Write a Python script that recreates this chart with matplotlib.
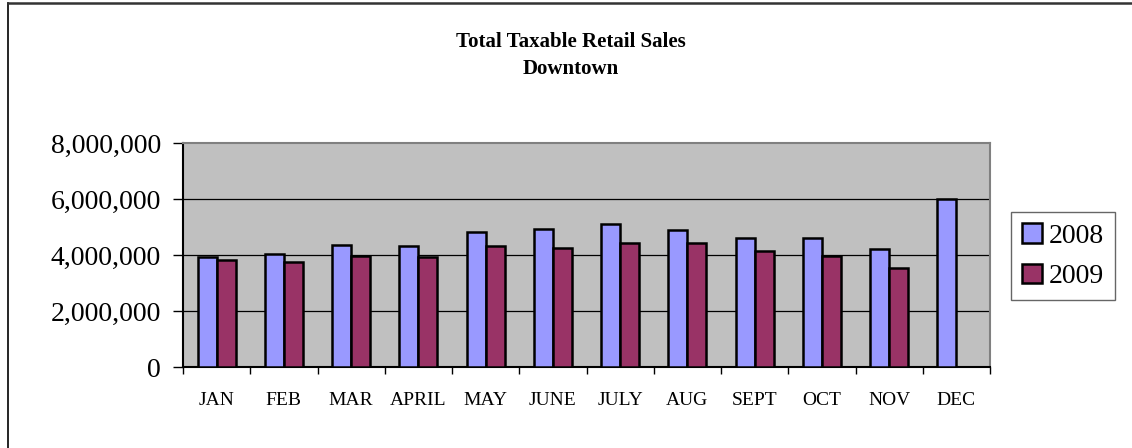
import matplotlib.pyplot as plt
import numpy as np
from matplotlib.lines import Line2D
from matplotlib.ticker import FuncFormatter, FixedLocator

months = ["JAN", "FEB", "MAR", "APRIL", "MAY", "JUNE", "JULY", "AUG",
          "SEPT", "OCT", "NOV", "DEC"]
sales_2008 = [3930000, 4050000, 4350000, 4330000, 4830000, 4930000,
              5110000, 4900000, 4590000, 4610000, 4210000, 6000000]
sales_2009 = [3810000, 3760000, 3960000, 3930000, 4310000, 4260000,
              4420000, 4420000, 4160000, 3950000, 3520000]
years = ["2008", "2009"]

plt.rcParams['font.family'] = ['Liberation Serif', 'DejaVu Serif']

fig = plt.figure(figsize=(11.32, 4.48), dpi=100)
ax = fig.add_axes([183 / 1132, 81 / 448, 807 / 1132, 224 / 448])
ax.set_facecolor("#C0C0C0")

x = np.arange(len(months))
w = 0.283
ax.bar(x[:len(sales_2008)] - w / 2, sales_2008, w, color="#9999FF",
       edgecolor="black", linewidth=1.8, label=years[0], zorder=3)
ax.bar(x[:len(sales_2009)] + w / 2, sales_2009, w, color="#993366",
       edgecolor="black", linewidth=1.8, label=years[1], zorder=3)

ax.set_xlim(-0.5, len(months) - 0.5)
ax.set_ylim(0, 8000000)
ax.set_yticks([0, 2000000, 4000000, 6000000, 8000000])
ax.yaxis.set_major_formatter(FuncFormatter(lambda v, p: f"{int(v):,}"))
ax.tick_params(axis="y", labelsize=20, length=7, width=1, direction="out", pad=9)

ax.set_xticks(x)
ax.set_xticklabels(months)
ax.xaxis.set_minor_locator(FixedLocator(np.arange(-0.5, len(months), 1)))
ax.tick_params(axis="x", which="major", length=0, labelsize=14, pad=18)
ax.tick_params(axis="x", which="minor", length=5, width=1, direction="out")

for g in [2000000, 4000000, 6000000]:
    ax.axhline(g, color="black", linewidth=0.9, zorder=1)

ax.spines["left"].set_color("black")
ax.spines["bottom"].set_color("black")
ax.spines["top"].set_color("#808080")
ax.spines["right"].set_color("#808080")
for s in ax.spines.values():
    s.set_linewidth(1.5)

title_x = 571 / 1132
fig.text(title_x, 1 - 42 / 448, "Total Taxable Retail Sales", ha="center",
         va="center", fontsize=15, fontweight="bold")
fig.text(title_x, 1 - 69 / 448, "Downtown", ha="center", va="center",
         fontsize=15, fontweight="bold")

leg = ax.legend(loc="upper left", bbox_to_anchor=(1011 / 1132, 1 - 212 / 448),
                bbox_transform=fig.transFigure, fontsize=20, frameon=True,
                fancybox=False, edgecolor="#404040", handlelength=0.7,
                handleheight=0.7, handletextpad=0.25, borderpad=0.4,
                labelspacing=0.55, borderaxespad=0)
leg.get_frame().set_linewidth(1.0)

# outer chart border (left and top edges visible)
fig.add_artist(Line2D([7.5 / 1132, 7.5 / 1132], [0, 1 - 3.5 / 448],
                      color="black", linewidth=1.2))
fig.add_artist(Line2D([7.5 / 1132, 1], [1 - 3.5 / 448, 1 - 3.5 / 448],
                      color="#333333", linewidth=1.8))

fig.savefig("out.png", dpi=100)
